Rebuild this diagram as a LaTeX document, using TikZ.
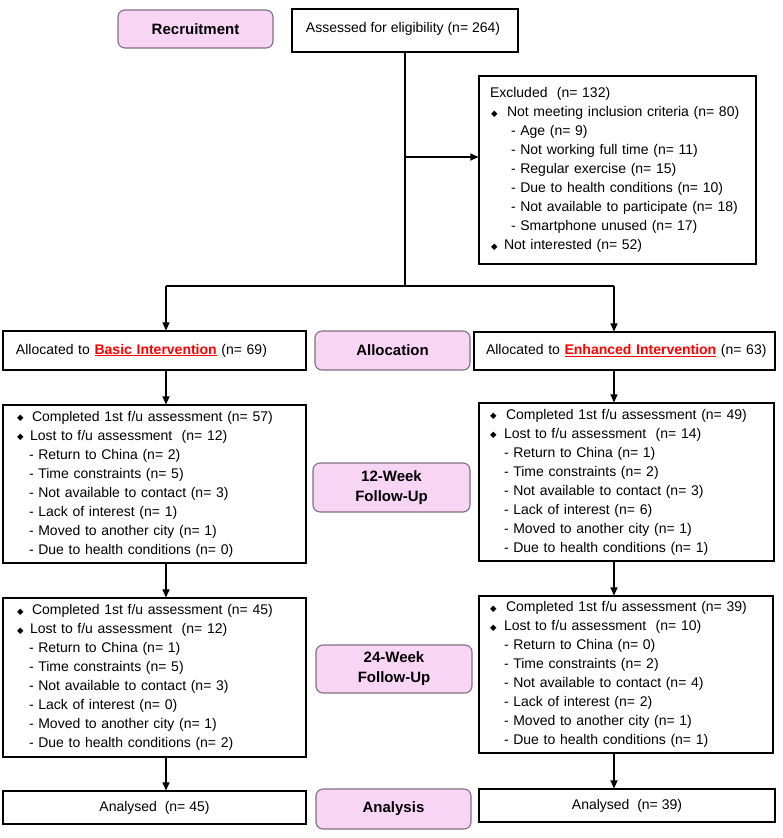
\documentclass[tikz,border=0pt]{standalone}
\usepackage{fontspec}
\setmainfont{Liberation Sans}
\newfontfamily\djv{DejaVu Sans}
\usetikzlibrary{arrows.meta}
\definecolor{pinkfill}{RGB}{249,213,245}
\definecolor{pinkline}{RGB}{128,110,128}
\newcommand\bul{{\djv\fontsize{8.5}{8.5}\selectfont\raisebox{0.3pt}{◆}}}
\newcommand\bitem[2]{\makebox[#1][l]{\bul}#2}
\newcommand\redul[1]{\textcolor{red}{\textbf{\underline{#1}}}}
\begin{document}
\begin{tikzpicture}[x=1pt,y=-1pt,
  pinkbox/.style={draw=pinkline, fill=pinkfill, rounded corners=7pt, line width=1.1pt,
    font=\fontsize{15}{20}\selectfont\bfseries, align=center, inner sep=0pt},
  wbox/.style={draw=black, line width=1.1pt, inner sep=0pt, font=\fontsize{14}{19}\selectfont},
  lbox/.style={wbox, align=left},
  arr/.style={-{Triangle[length=8pt,width=7pt]}, line width=1.1pt},
  conn/.style={line width=1.1pt}]
\useasboundingbox (0,0) rectangle (783,838);

% stage labels
\node[pinkbox, minimum width=155pt, minimum height=38pt] (recruit) at (195.5,29) {Recruitment};
\node[pinkbox, minimum width=155pt, minimum height=39pt] (alloc) at (392.5,350.5) {Allocation};
\node[pinkbox, minimum width=157pt, minimum height=49pt] (wk12) at (391.5,487.5) {12-Week\\Follow-Up};
\node[pinkbox, minimum width=156pt, minimum height=48pt] (wk24) at (394,669) {24-Week\\Follow-Up};
\node[pinkbox, minimum width=155pt, minimum height=40pt] (analysis) at (393.5,809) {Analysis};

% enrolment
\node[wbox, minimum width=226pt, minimum height=43pt,
  label={[name=assesst, font=\fontsize{14}{19}\selectfont, anchor=west, xshift=11pt, yshift=1.5pt]west:Assessed for eligibility (n= 264)}]
  (assess) at (405,30.5) {};

\node[lbox, minimum width=277pt, minimum height=188pt, inner xsep=11pt, text width=255pt] (excl) at (617.5,170) {%
Excluded~ (n= 132)\\
\hspace*{1pt}\bitem{16pt}{Not meeting inclusion criteria (n= 80)}\\
\hspace*{21pt}- Age (n= 9)\\
\hspace*{21pt}- Not working full time (n= 11)\\
\hspace*{21pt}- Regular exercise (n= 15)\\
\hspace*{21pt}- Due to health conditions (n= 10)\\
\hspace*{21pt}- Not available to participate (n= 18)\\
\hspace*{21pt}- Smartphone unused (n= 17)\\
\hspace*{1pt}\bitem{13pt}{Not interested (n= 52)}};

% allocation
\node[lbox, minimum width=303pt, minimum height=39pt, inner xsep=13pt, text width=277pt] (allocL) at (154.5,350.5)
  {\mbox{Allocated to \redul{Basic Intervention} (n= 69)}};
\node[lbox, minimum width=301pt, minimum height=38pt, inner xsep=12pt, text width=277pt] (allocR) at (624.5,351)
  {\mbox{Allocated to \redul{Enhanced Intervention} (n= 63)}};

% 12-week follow-up
\node[lbox, minimum width=303pt, minimum height=158pt, inner xsep=14pt, text width=275pt] (fuL1) at (154.5,484) {%
\bitem{15pt}{Completed 1st f/u assessment (n= 57)}\\
\bitem{13pt}{Lost to f/u assessment~ (n= 12)}\\
\hspace*{12pt}- Return to China (n= 2)\\
\hspace*{12pt}- Time constraints (n= 5)\\
\hspace*{12pt}- Not available to contact (n= 3)\\
\hspace*{12pt}- Lack of interest (n= 1)\\
\hspace*{12pt}- Moved to another city (n= 1)\\
\hspace*{12pt}- Due to health conditions (n= 0)};
\node[lbox, minimum width=295pt, minimum height=158pt, inner xsep=11pt, text width=273pt] (fuR1) at (626.5,482) {%
\bitem{16pt}{Completed 1st f/u assessment (n= 49)}\\
\bitem{14pt}{Lost to f/u assessment~ (n= 14)}\\
\hspace*{14pt}- Return to China (n= 1)\\
\hspace*{14pt}- Time constraints (n= 2)\\
\hspace*{14pt}- Not available to contact (n= 3)\\
\hspace*{14pt}- Lack of interest (n= 6)\\
\hspace*{14pt}- Moved to another city (n= 1)\\
\hspace*{14pt}- Due to health conditions (n= 1)};

% 24-week follow-up
\node[lbox, minimum width=303pt, minimum height=159pt, inner xsep=14pt, text width=275pt] (fuL2) at (154.5,677.5) {%
\bitem{15pt}{Completed 1st f/u assessment (n= 45)}\\
\bitem{13pt}{Lost to f/u assessment~ (n= 12)}\\
\hspace*{12pt}- Return to China (n= 1)\\
\hspace*{12pt}- Time constraints (n= 5)\\
\hspace*{12pt}- Not available to contact (n= 3)\\
\hspace*{12pt}- Lack of interest (n= 0)\\
\hspace*{12pt}- Moved to another city (n= 1)\\
\hspace*{12pt}- Due to health conditions (n= 2)};
\node[lbox, minimum width=294pt, minimum height=157pt, inner xsep=11pt, text width=272pt] (fuR2) at (626,674.5) {%
\bitem{16pt}{Completed 1st f/u assessment (n= 39)}\\
\bitem{14pt}{Lost to f/u assessment~ (n= 10)}\\
\hspace*{14pt}- Return to China (n= 0)\\
\hspace*{14pt}- Time constraints (n= 2)\\
\hspace*{14pt}- Not available to contact (n= 4)\\
\hspace*{14pt}- Lack of interest (n= 2)\\
\hspace*{14pt}- Moved to another city (n= 1)\\
\hspace*{14pt}- Due to health conditions (n= 1)};

% analysis
\node[wbox, minimum width=303pt, minimum height=33pt] (anaL) at (154.5,807.5) {Analysed~ (n= 45)};
\node[wbox, minimum width=296pt, minimum height=33pt] (anaR) at (627,805.5) {Analysed~ (n= 39)};

% connectors
\coordinate (j1) at (405,157);
\coordinate (j2) at (405,286);
\coordinate (jl) at (166,286);
\coordinate (jr) at (614,286);
\draw[conn] (assess.south) -- (j2);
\draw[arr] (j1) -- (j1 -| excl.west);
\draw[conn] (jl) -- (jr);
\draw[arr] (jl) -- (jl |- allocL.north);
\draw[arr] (jr) -- (jr |- allocR.north);
\draw[arr] (allocL.south -| jl) -- (fuL1.north -| jl);
\draw[arr] (fuL1.south -| jl) -- (fuL2.north -| jl);
\draw[arr] (fuL2.south -| jl) -- (anaL.north -| jl);
\draw[arr] (allocR.south -| jr) -- (fuR1.north -| jr);
\draw[arr] (fuR1.south -| jr) -- (fuR2.north -| jr);
\draw[arr] (fuR2.south -| jr) -- (anaR.north -| jr);
\end{tikzpicture}
\end{document}
